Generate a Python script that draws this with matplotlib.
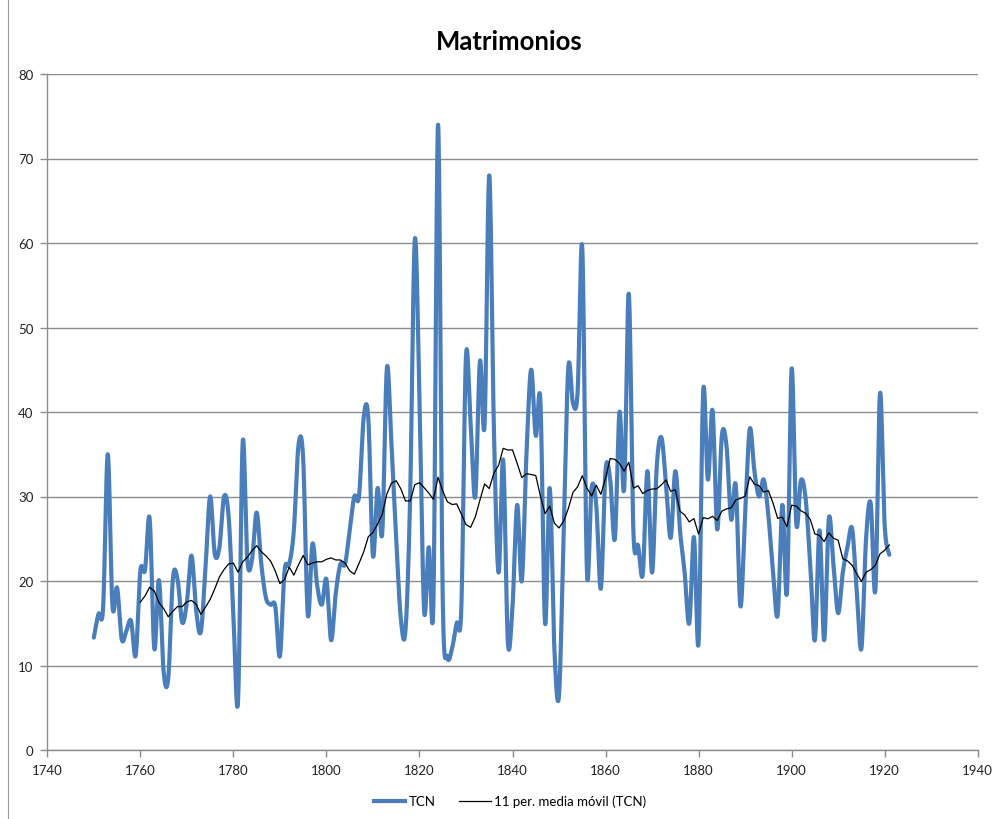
import numpy as np
import pandas as pd
import matplotlib
matplotlib.use("Agg")
import matplotlib.pyplot as plt
from matplotlib.lines import Line2D

years = list(range(1750, 1922))
tcn = [
    13.3, 16.1, 16.9, 35.0, 17.1, 19.2, 13.1, 14.1, 15.3, 11.2,   # 1750-1759
    21.2, 21.3, 27.4, 12.0, 20.1, 9.3, 8.5, 20.3, 20.2, 15.1,     # 1760-1769
    17.5, 23.0, 16.5, 14.0, 21.5, 30.0, 23.2, 24.0, 30.0, 27.5,   # 1770-1779
    16.0, 5.8, 36.4, 22.5, 22.5, 28.1, 22.0, 18.0, 17.2, 17.0,    # 1780-1789
    11.1, 21.2, 22.0, 26.0, 36.1, 34.5, 16.0, 24.4, 19.5, 17.2,   # 1790-1799
    20.2, 13.0, 18.5, 22.0, 22.0, 26.0, 30.0, 30.0, 39.3, 39.3,   # 1800-1809
    23.0, 31.0, 25.7, 45.2, 36.0, 25.0, 15.5, 14.2, 30.0, 60.4,   # 1810-1819
    42.0, 16.5, 24.0, 17.5, 74.0, 18.0, 11.0, 12.0, 15.0, 16.8,   # 1820-1829
    46.6, 38.5, 30.0, 46.0, 38.5, 68.0, 38.0, 21.0, 34.3, 12.8,   # 1830-1839
    17.0, 29.0, 20.0, 35.0, 45.0, 37.2, 41.3, 15.0, 31.0, 12.0,   # 1840-1849
    6.5, 26.0, 45.3, 41.0, 42.4, 59.4, 21.1, 31.0, 29.0, 19.1,    # 1850-1859
    33.1, 32.0, 25.0, 40.0, 30.9, 54.0, 25.7, 24.2, 20.8, 33.0,   # 1860-1869
    21.0, 33.5, 37.0, 31.5, 25.1, 33.0, 26.0, 21.0, 15.0, 25.2,   # 1870-1879
    12.7, 42.5, 32.0, 40.2, 26.1, 37.2, 36.0, 27.3, 31.3, 17.0,   # 1880-1889
    28.0, 38.0, 33.0, 30.0, 32.0, 27.8, 21.1, 16.0, 29.0, 18.7,   # 1890-1899
    45.1, 26.8, 31.9, 29.8, 22.0, 13.0, 26.0, 13.0, 27.4, 21.9,   # 1900-1909
    16.2, 21.0, 24.0, 26.2, 18.7, 12.0, 25.0, 29.2, 18.9, 42.2,   # 1910-1919
    26.6, 23.1,                                                   # 1920-1921
]
title = "Matrimonios"
series_label = "TCN"
ma_label = "11 per. media móvil (TCN)"
ma_window = 11
x_ticks = [1740, 1760, 1780, 1800, 1820, 1840, 1860, 1880, 1900, 1920, 1940]
y_ticks = [0, 10, 20, 30, 40, 50, 60, 70, 80]


def smooth(xs, ys, n=20):
    """Excel-like smoothed line (uniform Catmull-Rom spline through the points)."""
    xs = np.asarray(xs, float)
    ys = np.asarray(ys, float)
    px = np.concatenate([[xs[0]], xs, [xs[-1]]])
    py = np.concatenate([[ys[0]], ys, [ys[-1]]])
    t = np.linspace(0, 1, n, endpoint=False)
    ox, oy = [], []
    for i in range(1, len(px) - 2):
        for arr, out in ((px, ox), (py, oy)):
            p0, p1, p2, p3 = arr[i - 1], arr[i], arr[i + 1], arr[i + 2]
            c1 = p1 + (p2 - p0) / 6.0
            c2 = p2 - (p3 - p1) / 6.0
            out.extend((1 - t) ** 3 * p1 + 3 * (1 - t) ** 2 * t * c1
                       + 3 * (1 - t) * t ** 2 * c2 + t ** 3 * p2)
    ox.append(xs[-1])
    oy.append(ys[-1])
    return np.array(ox), np.array(oy)


plt.rcParams['font.family'] = ['Lato', 'DejaVu Sans']

fig = plt.figure(figsize=(9.98, 8.2), dpi=100)
ax = fig.add_axes([47.3 / 998, 1 - 751 / 820, 930.4 / 998, 676 / 820])

grid_c = "#8c8c8c"
blue = "#4a7ebb"

sx, sy = smooth(years, tcn)
ax.plot(sx, sy, color=blue, lw=3.0, solid_capstyle='round', label=series_label, zorder=3)

ma = pd.Series(tcn, index=years).rolling(ma_window).mean()
ax.plot(ma.index, ma.values, color="black", lw=0.9, label=ma_label, zorder=4)

ax.set_xlim(x_ticks[0], x_ticks[-1])
ax.set_ylim(y_ticks[0], y_ticks[-1])
ax.set_xticks(x_ticks)
ax.set_yticks(y_ticks)
ax.yaxis.grid(True, color=grid_c, lw=1.0)
ax.set_axisbelow(True)
for s in ("top", "right"):
    ax.spines[s].set_visible(False)
for s in ("left", "bottom"):
    ax.spines[s].set_color(grid_c)
    ax.spines[s].set_linewidth(1.0)
ax.tick_params(axis='both', direction='out', length=5, width=1, color=grid_c,
               labelsize=9.5, labelcolor="#222222")
ax.tick_params(axis='y', pad=5)
ax.tick_params(axis='x', pad=5)

fig.text(0.5098, 1 - 42 / 820, title, ha='center', va='center',
         fontsize=18.5, fontweight='bold', color='black')

handles = [Line2D([0], [0], color=blue, lw=3.0),
           Line2D([0], [0], color='black', lw=0.9)]
fig.legend(handles, [series_label, ma_label], loc='center',
           bbox_to_anchor=(510 / 998, 1 - 802 / 820), ncol=2, frameon=False,
           fontsize=9.5, handlelength=2.4, handletextpad=0.25, columnspacing=1.8)

fig.add_artist(Line2D([8 / 998, 8 / 998], [0, 1], color="#9a9a9a", lw=0.8,
                      transform=fig.transFigure))

fig.savefig("out.png", dpi=100)
